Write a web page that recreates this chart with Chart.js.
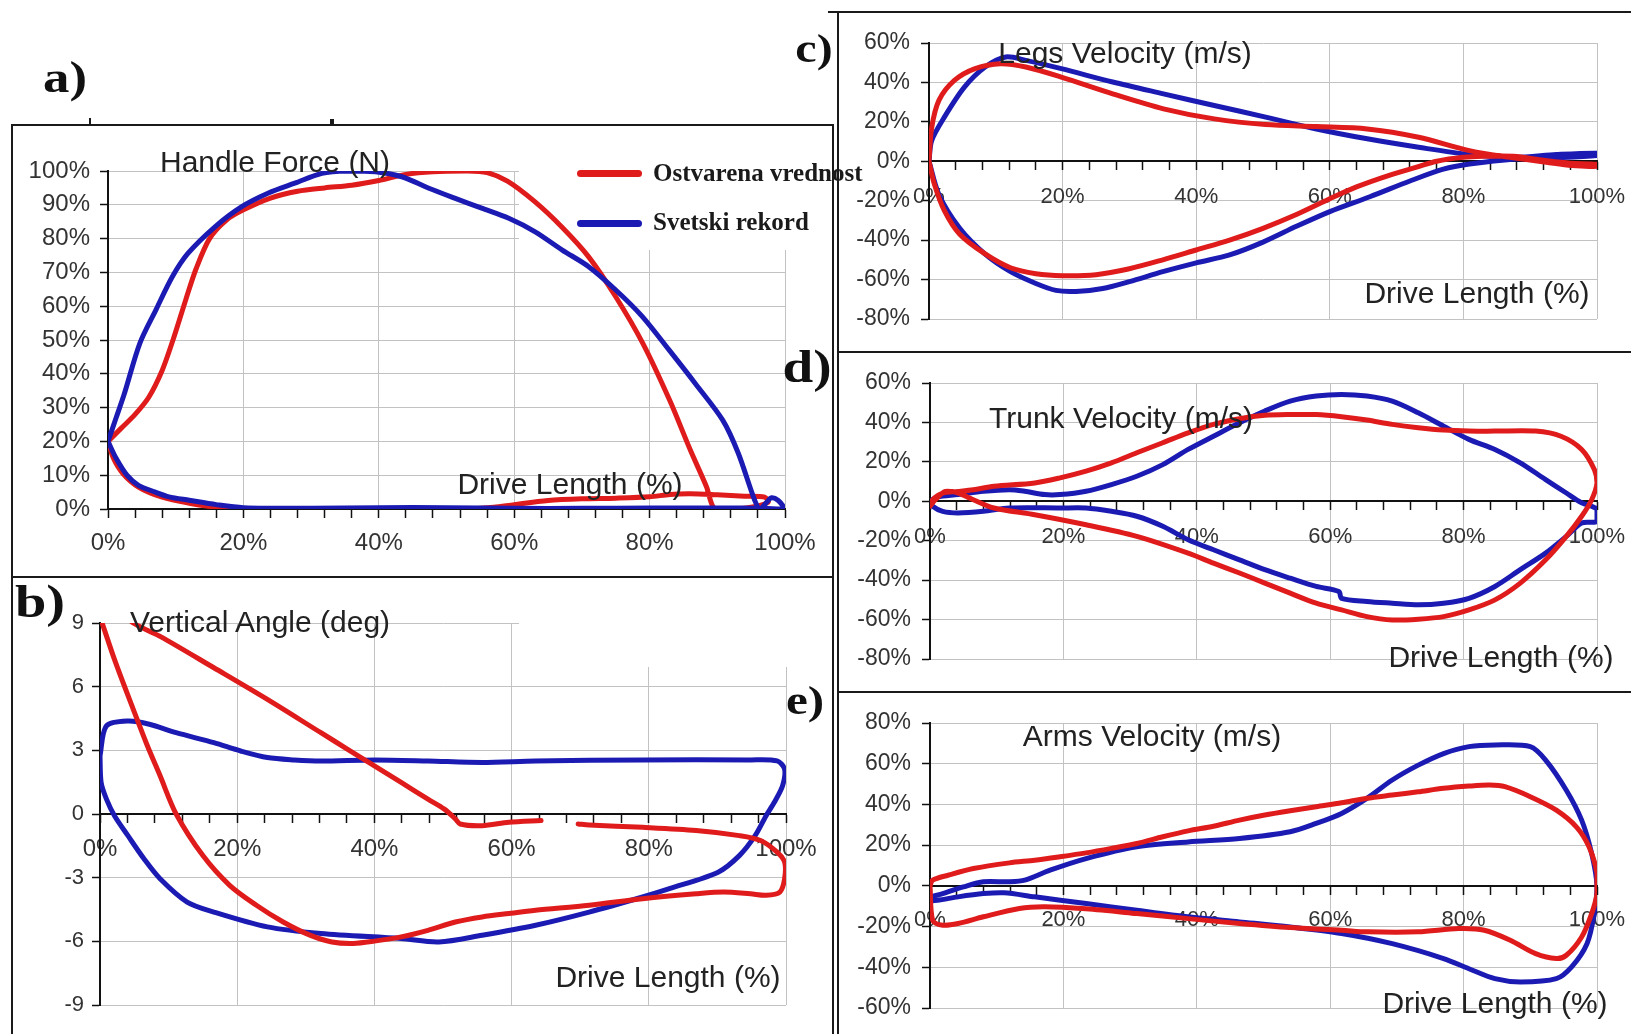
<!DOCTYPE html>
<html><head><meta charset="utf-8">
<script src="https://cdn.jsdelivr.net/npm/chart.js@4/dist/chart.umd.min.js"></script>
<style>
html,body{margin:0;padding:0;background:#fff;}
#page{position:relative;width:1631px;height:1034px;overflow:hidden;background:#fff;}
canvas{position:absolute;z-index:1;}
.ln{position:absolute;background:#1a1a1a;z-index:6;}
.tx{position:absolute;transform:translate(-50%,-50%);line-height:1;white-space:nowrap;z-index:4;font-family:'Liberation Sans',Arial,sans-serif;color:#222;font-size:30px;}
.pl{position:absolute;transform:translate(-50%,-50%) scaleX(1.2);line-height:1;white-space:nowrap;z-index:4;font-family:'Liberation Serif','Times New Roman',serif;font-weight:bold;color:#111;}
.lg{position:absolute;transform:translateY(-50%);line-height:1;white-space:nowrap;z-index:4;font-family:'Liberation Serif','Times New Roman',serif;font-weight:bold;color:#1a1a1a;font-size:25px;}
.lgl{position:absolute;height:7px;border-radius:4px;z-index:4;}
</style></head><body><div id="page"></div>
<script>
// ---------- data ----------
const seriesNames = ['Ostvarena vrednost', 'Svetski rekord'];
const xTickLabels = ['0%', '20%', '40%', '60%', '80%', '100%'];

// a) Handle Force (N)
const aRedX = [0,2,4,6,8,9.6,11.5,13,15,17.5,20,24,28,32,36,40,44,48,53,56,59,63,67,71,75,79,83,86,88.4,89.6,92,95,97.5,97,94,90,86,83,80,75,70,65,60,57,54,50,40,30,19,16,12,8,4.5,2.2,0.8,0];
const aRedY = [20,24,28,33,41,50,62,71,80,85.5,88.5,92,94,95,95.8,97.2,99,99.8,100,99.5,97,91,83.5,74.6,62.8,49,32,17.5,6.6,0,0,0.5,2,3.5,3.8,4.2,4.5,4.3,3.6,3.2,3.0,2.5,1.3,0.5,0.1,0,0,0,0,0.5,1.7,3.5,6.5,10.5,15,20];
const aBlueX = [0,1.2,2.4,4.7,7.1,9.5,11.8,15.8,19.7,23.7,27.6,31.6,35.5,39.5,43.4,47.4,51.3,55.2,59.2,63.1,67.1,71,75,78.9,82.9,86.8,90.8,93.1,95.5,96.3,97.3,98,99,100,96,90,80,70,60,50,40,30,20,16,12,9,7,4.5,2.8,1.2,0];
const aBlueY = [20,27,34,49,59,68.7,75.6,83.5,89.4,93.5,96.4,99.3,100,99.8,98.3,94.9,91.9,89,86,82,76.6,71.7,64.8,57,47,37,26.3,16.5,2.7,0,2,3.3,2.5,0,0.2,0.3,0.3,0.2,0.2,0.4,0.4,0.2,0.4,1.3,2.6,3.6,5,7,10,15,20];
const aYTicks = [0, 100, 10];

// b) Vertical Angle (deg)
const bRedX = [0,2.2,4.85,6.8,8.76,11.1,15,18.9,22.8,26.7,30.6,33.8,36.9,40,43.9,47.8,51.8,55.7,59.6,63.5,71.3,79.1,86.9,90.9,94.8,97.1,99.1,99.8,99.8,98.7,96.3,93.2,86.9,79.1,71.3,69.7,67,64.3,59.6,55.7,52.5,51.8,50.2,47.8,43.9,40,36.1,32.2,24.4,16.6,8.76,4.85,3];
const bRedY = [9.3,7.2,4.93,3.3,1.8,0,-1.96,-3.36,-4.3,-5.09,-5.71,-6.03,-6.1,-5.99,-5.79,-5.48,-5.09,-4.85,-4.69,-4.54,-4.3,-3.99,-3.76,-3.68,-3.76,-3.83,-3.68,-3.05,-2.27,-1.8,-1.25,-1.02,-0.78,-0.63,-0.52,-0.47,null,-0.31,-0.39,-0.55,-0.47,-0.23,0.23,0.7,1.49,2.27,3.05,3.83,5.4,6.89,8.37,9.0,9.6];
const bBlueX = [0,0.94,4.07,7.19,11.1,16.6,20.5,24.4,28.3,32.2,40,47.8,55.7,63.5,79.1,94.8,98.7,99.8,99.5,98.3,97.1,95.5,93.2,90.1,83,79.1,71.3,63.5,55.7,49.4,43.9,32.2,24.4,16.6,12.7,8.76,6.41,4.07,2.11,0.94,0.16,0];
const bBlueY = [2.74,4.15,4.38,4.23,3.83,3.36,2.97,2.66,2.55,2.5,2.55,2.5,2.43,2.5,2.55,2.55,2.5,2.11,1.33,0.55,-0.08,-1.02,-1.96,-2.74,-3.52,-3.91,-4.62,-5.24,-5.71,-6.03,-5.87,-5.63,-5.32,-4.62,-4.15,-3.05,-2.11,-1.02,-0.08,0.7,1.49,2.74];
const bYTicks = [-9, 9, 3];

// c) Legs Velocity (m/s)
const cRedX = [0,0.4,1.5,3.8,6.9,10.7,14.5,19.8,27.5,35.1,42.7,50.4,58,65.6,73.3,80.9,87,92.4,96.2,100,100,96,92,87.5,83,80,76,73,69,64,60,55,50,45,40,35,30,25,20,16,12.2,8.4,4.6,2.3,0.8,0];
const cRedY = [0,17,31,41,47,49.5,47.8,42.7,34.2,26.6,21.5,18.6,17.6,16.4,12.2,5.4,2,-0.5,-2.2,-2.5,-1.5,-1,0.5,2.5,2.5,2,0,-3,-7,-13,-19,-27,-34,-40,-45,-50,-54.5,-57.5,-58,-57,-54,-47,-37,-25,-11.5,0];
const cBlueX = [0,0.4,2.3,5.3,8.4,11.5,14.5,19.8,27.5,35.1,42.7,50.4,58,65.6,73.3,80.9,87.8,93.9,100,100,93.9,87.8,80.9,77,72,66,60,55,50,45,40,35,30,26,22,19,16,12.2,8.4,4.6,1.5,0];
const cBlueY = [0,10.5,22.4,37.6,47.8,52.9,51.2,47,40.2,34.2,28.3,22.4,16.4,11.4,7.1,3.4,2,3.4,4.1,3,1.8,1.2,-1.4,-4,-10,-18,-25.5,-33,-41,-47.5,-51.5,-56,-61,-64.5,-66,-65.5,-62,-56,-47.1,-34,-17,0];
const cYTicks = [-80, 60, 20];

// d) Trunk Velocity (m/s)
const dRedX = [0,0.4,1.9,4.2,6.5,9.6,15.7,19.5,23.4,27.2,31,34.9,38.7,42.5,46.4,50.2,54,57.9,61.7,65.5,69.3,73.2,77,80.8,84.7,90.8,94.6,97.7,99.6,100,99.2,97.7,95.4,92.3,88.5,84.7,80.8,77,73.2,69.3,65.5,61.7,57.9,54,50.2,46.4,42.5,38.7,31,23.4,15.7,9.6,6.5,4.2,2.3,0.8,0];
const dRedY = [-2.5,0.8,4.2,5,5.9,7.6,9.3,11.9,15.3,19.5,24.6,29.7,34.7,39,41.9,43.6,44,44,42.9,41.2,39,37.3,36.1,35.6,35.6,35.6,33,26.3,16.1,9.3,0.8,-7.6,-17.8,-29.7,-41.5,-50,-55.1,-58.5,-59.8,-60.2,-58.5,-55.1,-51.7,-46.6,-41.5,-36.4,-31.4,-26.3,-17.8,-11.9,-6.8,-3.4,0.8,4.2,5,0.8,-2.5];
const dBlueX = [0,1.1,4.2,8,11.9,14.2,17.2,19.5,23.4,27.2,31,34.9,38.7,42.5,46.4,50.2,54,57.9,61.7,65.5,69.3,73.2,77,80.8,84.7,88.5,92.3,95.4,97.7,99.2,100,100,97.7,95.4,92.3,88.5,84.7,80.8,77,73.2,69.3,65.5,61.7,61.3,57.9,54,50.2,46.4,42.5,38.7,34.9,31,27.2,23.4,19.5,11.9,8,4.2,1.9,0.4,0];
const dBlueY = [0,2.2,3.4,5.1,5.9,5.1,3.4,3.4,5.1,8.5,12.7,18.6,26.3,33,39.8,45.8,50.8,53.4,54.2,53.4,50.8,44.9,38.1,31.4,26.3,19.5,11,4.2,-0.8,-2.5,-4.2,-10.2,-11,-17.8,-26.3,-34.7,-43.2,-49.2,-51.7,-52.5,-51.7,-50.8,-49.2,-45.8,-43.2,-39,-34.7,-29.7,-24.6,-19.5,-12.7,-7.6,-5.1,-3.4,-3.4,-3.4,-5.1,-5.9,-5.1,-2.5,0];
const dYTicks = [-80, 60, 20];

// e) Arms Velocity (m/s)
const eRedX = [0,0.4,2.7,6.5,11.9,15.7,19.5,23.4,27.2,31,34.9,38.7,42.5,46.4,50.2,54,57.9,61.7,65.5,69.3,73.2,77,80.8,83.9,86.2,90,93.9,96.9,98.8,100,100,99.2,97.7,95.4,93.9,90.8,87,83.1,79.3,73.2,65.5,61.7,54,46.4,38.7,31,23.4,17.2,13.4,8,4.2,1.9,0.4,0];
const eRedY = [0,2.8,5.2,8.5,11.3,12.6,14.3,16.2,18.4,20.8,24.1,27,29.3,32.3,34.8,36.9,38.9,40.8,43,44.6,46.2,47.9,49,49.5,48.7,43.8,37.2,29,19.2,6.1,-3.8,-13.6,-25.1,-34.1,-35.7,-33.3,-26.7,-21.8,-21,-22.6,-22.6,-21.8,-20.5,-18.5,-16.1,-13.6,-11.3,-10.3,-11.1,-15.2,-18.5,-19.3,-16.9,0];
const eBlueX = [0,1.9,5,8,11.9,14.2,18,23.4,31,38.7,46.4,54,57.9,61.7,65.5,69.3,73.2,77,80.8,84.7,90,92.3,95.4,97.7,99.2,100,99.6,98.5,96.2,93.9,88.5,84.7,80.8,77,69.3,61.7,54,46.4,38.7,31,23.4,15.7,11.1,8,4.2,1.1,0,0];
const eBlueY = [-5.4,-3.8,-0.5,2,2,2.8,7.7,13.4,19.2,21.6,23.3,26.6,30.7,35.6,43,52,59.3,65,68.4,69.2,68.4,61.8,47,32.3,15.9,0,-13.6,-28.4,-39.8,-45.6,-47.2,-45.6,-40.7,-35.7,-28.4,-23.4,-20.2,-17.7,-15.2,-12,-8.7,-5.4,-3.4,-3.8,-5.4,-7.1,-7.1,-5.4];
const eYTicks = [-60, 80, 20];

// ---------- drawing ----------
const RED = '#e01b1b', BLUE = '#1b1bb4';
const GRID = '#c2c2c2', AXIS = '#111', TICKTXT = '#333';
const FONT = "'Liberation Sans', Arial, sans-serif";
const page = document.getElementById('page');

function pts(xs, ys) { return xs.map((x, i) => ({x: x, y: ys[i]})); }

function panel(cfg) {
  const YW = 100, PT = 30, PR = 45, PB = 55;
  const A = cfg.area;
  const L = A.l - YW, T = A.t - PT;
  const W = A.r + PR - L, H = A.b + PB - T;
  const cv = document.createElement('canvas');
  cv.width = W; cv.height = H;
  cv.style.left = L + 'px'; cv.style.top = T + 'px';
  cv.style.width = W + 'px'; cv.style.height = H + 'px';
  page.appendChild(cv);
  const cover = cfg.cover ? {x1: cfg.cover[0] - L, y1: cfg.cover[1] - T, x2: cfg.cover[2] - L, y2: cfg.cover[3] - T} : null;
  const xFmt = v => (v % 20 === 0 ? xTickLabels[v / 20] : '');
  const mk = (xs, ys, color, order) => ({
    data: pts(xs, ys), showLine: true, borderColor: color, backgroundColor: color,
    borderWidth: 5, pointRadius: 0, pointHoverRadius: 0, tension: 0.3, spanGaps: false,
    fill: false, borderCapStyle: 'round', borderJoinStyle: 'round', order: order, label: ''
  });
  new Chart(cv, {
    type: 'scatter',
    data: {datasets: [
      Object.assign(mk(cfg.red[0], cfg.red[1], RED, cfg.redTop ? 0 : 1), {label: seriesNames[0]}),
      Object.assign(mk(cfg.blue[0], cfg.blue[1], BLUE, cfg.redTop ? 1 : 0), {label: seriesNames[1]})
    ]},
    options: {
      responsive: false, animation: false, devicePixelRatio: 1, events: [],
      layout: {padding: {left: 0, top: PT, right: PR, bottom: PB}},
      plugins: {legend: {display: false}, tooltip: {enabled: false}, title: {display: false}},
      scales: {
        x: {
          type: 'linear', position: {y: 0}, min: 0, max: 100,
          ticks: {stepSize: 4, maxTicksLimit: 200, autoSkip: false, maxRotation: 0, minRotation: 0,
                  callback: xFmt, color: TICKTXT, padding: cfg.xPad,
                  font: {family: FONT, size: cfg.xFont}},
          grid: {color: c => (c.tick && c.tick.value % 20 === 0 && c.tick.value !== 0) ? GRID : 'rgba(0,0,0,0)',
                 lineWidth: 1, drawTicks: true, tickLength: 8, tickWidth: 1.5, tickColor: AXIS},
          border: {color: AXIS, width: 2}
        },
        y: {
          type: 'linear', position: 'left', min: cfg.yt[0], max: cfg.yt[1],
          afterFit: s => { s.width = YW; },
          ticks: {stepSize: cfg.yt[2], callback: cfg.yFmt, color: TICKTXT, padding: cfg.yPad,
                  font: {family: FONT, size: cfg.yFont}},
          grid: {color: c => (c.tick && c.tick.value === 0) ? 'rgba(0,0,0,0)' : GRID,
                 lineWidth: 1, drawTicks: true, tickLength: 8, tickWidth: 1.5, tickColor: AXIS},
          border: {color: AXIS, width: 2}
        }
      }
    },
    plugins: [{
      id: 'cover',
      beforeDatasetsDraw(chart) {
        if (!cover) return;
        const ctx = chart.ctx;
        ctx.save(); ctx.fillStyle = '#fff';
        ctx.fillRect(cover.x1, cover.y1, cover.x2 - cover.x1, cover.y2 - cover.y1);
        ctx.restore();
      }
    }]
  });
}

const pct = v => v + '%';
panel({area: {l: 108, r: 785, t: 171, b: 509}, yt: aYTicks, yFmt: pct, red: [aRedX, aRedY], blue: [aBlueX, aBlueY],
       redTop: false, xFont: 24, yFont: 24, xPad: 12, yPad: 10, cover: [519, 100, 860, 250]});
panel({area: {l: 100, r: 786, t: 623, b: 1005}, yt: bYTicks, yFmt: v => String(v), red: [bRedX, bRedY], blue: [bBlueX, bBlueY],
       redTop: true, xFont: 24, yFont: 22, xPad: 13, yPad: 8, cover: [519, 578, 860, 667]});
panel({area: {l: 929, r: 1597, t: 43, b: 319}, yt: cYTicks, yFmt: pct, red: [cRedX, cRedY], blue: [cBlueX, cBlueY],
       redTop: true, xFont: 22, yFont: 23, xPad: 14, yPad: 11});
panel({area: {l: 930, r: 1597, t: 383, b: 659}, yt: dYTicks, yFmt: pct, red: [dRedX, dRedY], blue: [dBlueX, dBlueY],
       redTop: true, xFont: 22, yFont: 23, xPad: 14, yPad: 11});
panel({area: {l: 930, r: 1597, t: 723, b: 1008}, yt: eYTicks, yFmt: pct, red: [eRedX, eRedY], blue: [eBlueX, eBlueY],
       redTop: true, xFont: 22, yFont: 23, xPad: 13, yPad: 11});

// ---------- text ----------
function txt(cls, s, x, y, size, extra) {
  const d = document.createElement('div');
  d.className = cls; d.textContent = s;
  d.style.left = x + 'px'; d.style.top = y + 'px';
  if (size) d.style.fontSize = size + 'px';
  if (extra) Object.assign(d.style, extra);
  page.appendChild(d);
}
txt('tx', 'Handle Force (N)', 275, 162);
txt('tx', 'Vertical Angle (deg)', 260, 622);
txt('tx', 'Legs Velocity (m/s)', 1125, 53);
txt('tx', 'Trunk Velocity (m/s)', 1121, 418);
txt('tx', 'Arms Velocity (m/s)', 1152, 736);
txt('tx', 'Drive Length (%)', 570, 484);
txt('tx', 'Drive Length (%)', 668, 977);
txt('tx', 'Drive Length (%)', 1477, 293);
txt('tx', 'Drive Length (%)', 1501, 657);
txt('tx', 'Drive Length (%)', 1495, 1003);

txt('pl', 'a)', 65, 78, 44);
txt('pl', 'b)', 40, 601, 47);
txt('pl', 'c)', 814, 49, 40);
txt('pl', 'd)', 807, 367, 46);
txt('pl', 'e)', 805, 700, 41);

// legend
function lgLine(x, y, w, color) {
  const d = document.createElement('div');
  d.className = 'lgl';
  d.style.left = x + 'px'; d.style.top = (y - 3.5) + 'px'; d.style.width = w + 'px'; d.style.background = color;
  page.appendChild(d);
}
lgLine(577, 173, 65, RED);
lgLine(577, 223, 65, BLUE);
txt('lg', seriesNames[0], 653, 172);
txt('lg', seriesNames[1], 653, 221);

// ---------- frame lines ----------
function ln(x, y, w, h) {
  const d = document.createElement('div');
  d.className = 'ln';
  d.style.left = x + 'px'; d.style.top = y + 'px'; d.style.width = w + 'px'; d.style.height = h + 'px';
  page.appendChild(d);
}
ln(11, 124, 823, 2);
ln(11, 124, 2, 910);
ln(11, 576, 823, 2);
ln(832, 124, 2, 910);
ln(837, 11, 2, 1023);
ln(837, 11, 794, 2);
ln(837, 351, 794, 2);
ln(837, 691, 794, 2);
ln(828, 11, 9, 2);
ln(89, 118, 2, 7);
ln(330, 119, 4, 6);
</script></body></html>
